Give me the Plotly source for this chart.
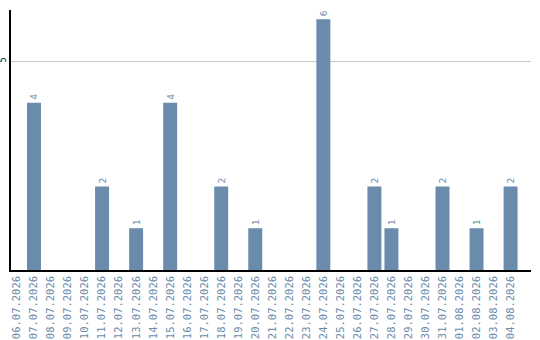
import plotly.graph_objects as go

# Daily counts
dates = ["06.07.2026", "07.07.2026", "08.07.2026", "09.07.2026", "10.07.2026",
         "11.07.2026", "12.07.2026", "13.07.2026", "14.07.2026", "15.07.2026",
         "16.07.2026", "17.07.2026", "18.07.2026", "19.07.2026", "20.07.2026",
         "21.07.2026", "22.07.2026", "23.07.2026", "24.07.2026", "25.07.2026",
         "26.07.2026", "27.07.2026", "28.07.2026", "29.07.2026", "30.07.2026",
         "31.07.2026", "01.08.2026", "02.08.2026", "03.08.2026", "04.08.2026"]
counts = [0, 4, 0, 0, 0, 2, 0, 1, 0, 4,
          0, 0, 2, 0, 1, 0, 0, 0, 6, 0,
          0, 2, 1, 0, 0, 2, 0, 1, 0, 2]
y_ticks = [5]

bar_color = "#6a8bab"
labels = [str(v) if v else "" for v in counts]

fig = go.Figure(go.Bar(
    x=dates, y=counts,
    marker=dict(color=bar_color, line=dict(width=0)),
    text=labels, textposition="outside", textangle=-90,
    textfont=dict(family="DejaVu Sans Mono", size=9.5, color=bar_color),
    cliponaxis=False,
))

W, H = 540, 340
left, right, top, bottom = 10.5, 531, 10, 270
fig.update_layout(
    width=W, height=H,
    margin=dict(l=0, r=0, t=0, b=0),
    plot_bgcolor="white", paper_bgcolor="white",
    bargap=0.18,
    showlegend=False,
    xaxis=dict(
        domain=[left / W, right / W],
        range=[-0.38, 30.2],
        type="category",
        tickangle=-90,
        tickfont=dict(family="DejaVu Sans Mono", size=10.5, color="#6a8bab"),
        showline=True, linecolor="black", linewidth=1.5,
        showgrid=False, ticks="", ticklen=0,
        anchor="y",
    ),
    yaxis=dict(
        domain=[(H - bottom) / H, (H - top) / H],
        range=[0, 6.22],
        tickvals=y_ticks,
        tickangle=-90,
        tickfont=dict(family="DejaVu Sans Mono", size=8, color="black"),
        showline=True, linecolor="black", linewidth=1.5,
        showgrid=True, gridcolor="#c8c8c8", gridwidth=1,
        zeroline=False, ticks="", ticklen=0,
        anchor="x",
    ),
)

fig.write_html("out.html")
